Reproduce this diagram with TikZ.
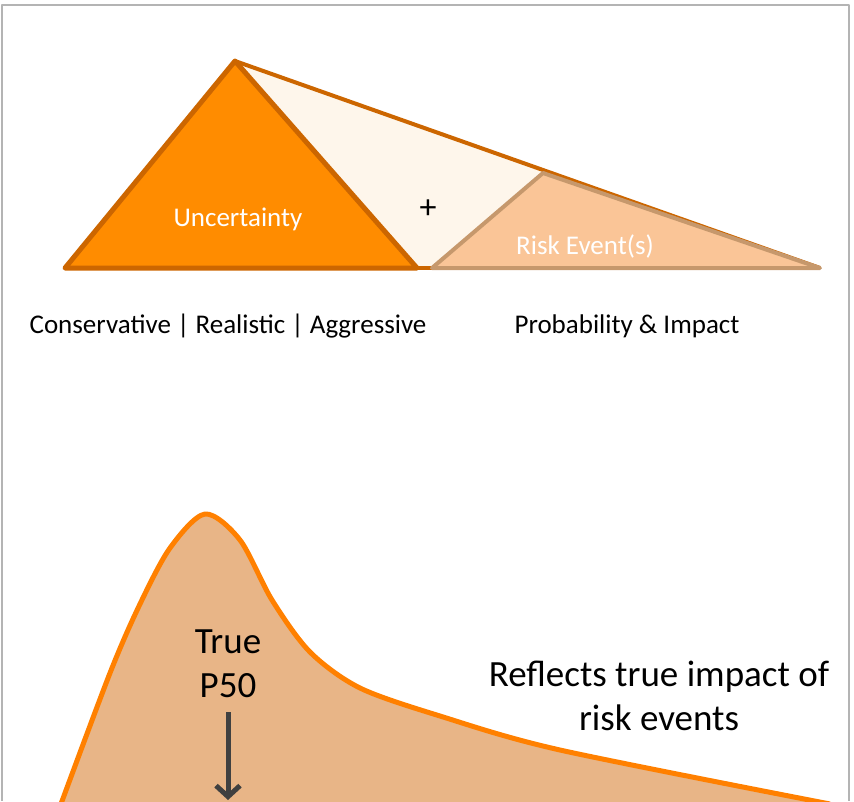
\documentclass[tikz,border=0pt]{standalone}
\usepackage{fontspec}
\setmainfont{Carlito}
\usetikzlibrary{arrows.meta}
\definecolor{darkorange}{HTML}{CC6600}
\definecolor{brightorange}{HTML}{FF8C00}
\definecolor{lightcream}{HTML}{FEF6EB}
\definecolor{riskfill}{HTML}{FAC597}
\definecolor{riskedge}{HTML}{C6986C}
\definecolor{curvefill}{HTML}{E8B587}
\definecolor{curveedge}{HTML}{FF8000}
\definecolor{arrowgray}{HTML}{404040}
\definecolor{framegray}{HTML}{B4B4B4}
\tikzset{
  small label/.style={font=\fontsize{27}{32}\selectfont, inner sep=0pt},
  big label/.style={font=\fontsize{37}{44}\selectfont, align=center, inner sep=0pt}
}

\begin{document}
\begin{tikzpicture}[x=1pt,y=-1pt,line join=round]
\useasboundingbox (0,0) rectangle (854,801);
\draw[framegray,line width=2pt] (2,801)--(2,5)--(849,5)--(849,801);
% top: uncertainty + risk events
\fill[lightcream] (235,61)--(543,170)--(432,268)--(417,268)--cycle;
\draw[darkorange,line width=4pt] (235,61)--(820,268);
\draw[darkorange,line width=4pt] (417,268)--(432,268);
\draw[riskedge,fill=riskfill,line width=4pt] (432,268)--(543,173)--(820,268)--cycle;
\draw[darkorange,line width=5pt,fill=brightorange] (65,268)--(235,61)--(417,268)--cycle;
\node[small label,white] (unc) at (238,219) {Uncertainty};
\node[small label,white] (risk) at (585,246) {Risk Event(s)};
\node[small label,font=\fontsize{34}{40}\selectfont] (plus) at (428,209) {+};
\node[small label] (cra) at (228,326) {Conservative | Realistic | Aggressive};
\node[small label] (pi) at (627,326) {Probability \& Impact};
% bottom: distribution
\fill[curvefill] plot[smooth,tension=0.5] coordinates {(58,812) (110,673) (140,604) (170,548) (205,514) (240,540) (272,600) (310,652) (360,688) (440,716) (560,750) (830,804)} -- (830,810) -- cycle;
\draw[curveedge,line width=5pt] plot[smooth,tension=0.5] coordinates {(58,812) (110,673) (140,604) (170,548) (205,514) (240,540) (272,600) (310,652) (360,688) (440,716) (560,750) (830,804)};
\node[big label] (p50) at (228,664) {True\\P50};
\node[big label] (refl) at (659,696) {Reflects true impact of\\risk events};
\coordinate (tip) at (228,800);
\draw[arrowgray,line width=5pt,-{Straight Barb[length=11pt,width=24pt]}] ([yshift=-14pt]p50.south) -- (tip);
\end{tikzpicture}
\end{document}
